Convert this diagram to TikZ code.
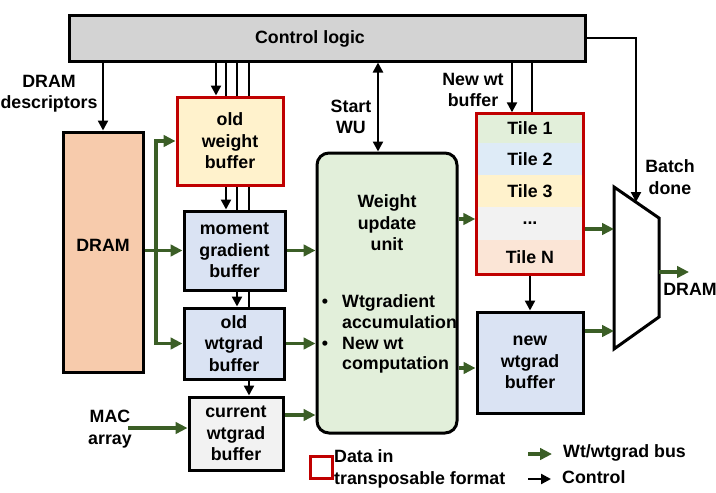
\documentclass[tikz,border=0pt]{standalone}
\usepackage{fontspec}
\setmainfont{Liberation Sans}
\usetikzlibrary{arrows.meta,backgrounds,fit}
\definecolor{gbus}{HTML}{3B5E26}
\definecolor{redb}{HTML}{C00000}
\definecolor{ctrlg}{HTML}{D3D3D3}
\definecolor{dramc}{HTML}{F7CBAC}
\definecolor{yel}{HTML}{FFF2CC}
\definecolor{blu}{HTML}{DAE3F3}
\definecolor{lgray}{HTML}{F2F2F2}
\definecolor{grn}{HTML}{E2EFDA}
\definecolor{tblue}{HTML}{DEEBF7}
\definecolor{tpeach}{HTML}{FBE5D6}
\begin{document}
\begin{tikzpicture}[x=1pt,y=-1pt,
  font=\fontsize{17.8}{21.5}\selectfont\bfseries,
  box/.style={draw, line width=3pt, inner sep=0pt, align=center},
  tile/.style={inner sep=0pt, minimum width=106pt},
  ctl/.style={line width=2.3pt, -{Triangle[length=10pt,width=10pt]}},
  ctlplain/.style={line width=2.3pt},
  bus/.style={gbus, line width=3.2pt, -{Triangle[length=12pt,width=11.5pt]}},
  lbl/.style={align=center, inner sep=0pt}]
\useasboundingbox (0,0) rectangle (716,493);

% boxes
\node[box, fill=ctrlg, minimum width=516pt, minimum height=46pt] (ctrl) at (327,38) {};
\node[lbl] (ctrltxt) at (310,38.5) {Control logic};
\node[box, fill=dramc, minimum width=80pt, minimum height=240pt] (dram) at (103,252) {};
\node[lbl] (dramtxt) at (103,245) {DRAM};
\node[box, draw=redb, fill=yel, minimum width=106pt, minimum height=88pt] (oldw) at (230,141) {old\\weight\\buffer};
\node[box, fill=blu, minimum width=101pt, minimum height=79pt] (mom) at (234.5,250.5) {moment\\gradient\\buffer};
\node[box, fill=blu, minimum width=100pt, minimum height=71pt] (oldwt) at (234,343.5) {old\\wtgrad\\buffer};
\node[box, fill=lgray, minimum width=94pt, minimum height=73pt] (cur) at (236,433.5) {current\\wtgrad\\buffer};
\node[box, fill=grn, rounded corners=12pt, minimum width=140pt, minimum height=280pt] (wu) at (387,293) {};
\node[lbl] (wutitle) at (387,223) {Weight\\update\\unit};
\node[anchor=base, inner sep=0pt] (b1) at (325,307) {\textbullet};
\node[anchor=base, inner sep=0pt] (b2) at (325,349) {\textbullet};
\node[anchor=base west, inner sep=0pt] (w1) at (342,307) {Wtgradient};
\node[anchor=base west, inner sep=0pt] (w2) at (342,328) {accumulation};
\node[anchor=base west, inner sep=0pt] (w3) at (342,349) {New wt};
\node[anchor=base west, inner sep=0pt] (w4) at (342,369) {computation};

% tiles
\node[tile, fill=grn, minimum height=29pt] (t1) at (530,128.5) {Tile 1};
\node[tile, fill=tblue, minimum height=32pt] (t2) at (530,159) {Tile 2};
\node[tile, fill=yel, minimum height=32pt] (t3) at (530,191) {Tile 3};
\node[tile, fill=lgray, minimum height=33pt] (t4) at (530,223.5) {...};
\node[tile, fill=tpeach, minimum height=34pt] (tN) at (530,257) {Tile N};
\node[draw=redb, line width=3pt, inner sep=0pt, fit=(t1)(tN)] (tiles) {};

\node[box, fill=blu, minimum width=106pt, minimum height=101pt] (newwg) at (530,362.5) {new\\wtgrad\\buffer};

% mux
\draw[line width=3pt, fill=white, line join=miter] (614,187) -- (659,218) -- (659,317) -- (614,349) -- cycle;
\coordinate (min1) at (614,229);
\coordinate (min2) at (614,331);
\coordinate (mout) at (659,272);
\coordinate (mctl) at (636,202);
\coordinate (dout) at (689,272);

% control lines
\draw[ctl] (dram.north |- ctrl.south) -- (dram.north);
\begin{scope}[on background layer]
\draw[ctl] (216,0 |- ctrl.south) -- (216,0 |- oldw.north);
\draw[ctl] (226,0 |- ctrl.south) -- (226,0 |- mom.north);
\draw[ctl] (237,0 |- ctrl.south) -- (237,0 |- oldwt.north);
\draw[ctl] (249,0 |- ctrl.south) -- (249,0 |- cur.north);
\end{scope}
\draw[line width=2.3pt, {Triangle[length=10pt,width=10pt]}-{Triangle[length=10pt,width=10pt]}] (378,0 |- ctrl.south) -- (378,0 |- wu.north);
\draw[ctl] (512,0 |- ctrl.south) -- (512,0 |- tiles.north);
\draw[ctlplain] (532,0 |- ctrl.south) -- (532,0 |- tiles.north);
\draw[ctl] (ctrl.east) -| (mctl);
\draw[ctl] (tiles.south) -- (newwg.north);

% bus lines
\coordinate (gj) at (156,0 |- mom.west);
\draw[bus] (dram.east |- mom.west) -- (mom.west);
\draw[bus] (gj) |- (oldw.west);
\draw[bus] (gj) |- (oldwt.west);
\draw[bus] (mom.east) -- (mom.east -| wu.west);
\draw[bus] (oldwt.east) -- (oldwt.east -| wu.west);
\draw[bus] (cur.east |- 0,415) -- (wu.west |- 0,415);
\node[lbl] (mac) at (110,429) {MAC\\array};
\coordinate (macs) at (128,428);
\draw[bus] (macs) -- (cur.west |- macs);
\draw[bus] (wu.east |- 0,219) -- (tiles.west |- 0,219);
\draw[bus] (wu.east |- 0,368) -- (newwg.west |- 0,368);
\draw[bus] (tiles.east |- min1) -- (min1);
\draw[bus] (newwg.east |- min2) -- (min2);
\draw[bus] (mout) -- (dout);

% labels
\node[lbl] (ddesc) at (49,93.5) {DRAM\\descriptors};
\node[lbl] (startwu) at (351,117) {Start\\WU};
\node[lbl] (newwt) at (473,90) {New wt\\buffer};
\node[lbl] (batch) at (670,177) {Batch\\done};
\node[lbl] (dramout) at (690,289) {DRAM};

% legend
\node[draw=redb, line width=3pt, minimum size=22pt, inner sep=0pt] (legsq) at (321,467) {};
\node[anchor=west, align=left, inner sep=0pt] (legtxt) at (334,469) {Data in\\transposable format};
\coordinate (lg1) at (528,454);
\coordinate (lg2) at (552,454);
\coordinate (lk1) at (528,479);
\coordinate (lk2) at (551,479);
\draw[bus] (lg1) -- (lg2);
\draw[ctl] (lk1) -- (lk2);
\node[anchor=west, inner sep=0pt] (legbus) at (563,453) {Wt/wtgrad bus};
\node[anchor=west, inner sep=0pt] (legctl) at (562,477) {Control};
\end{tikzpicture}
\end{document}
